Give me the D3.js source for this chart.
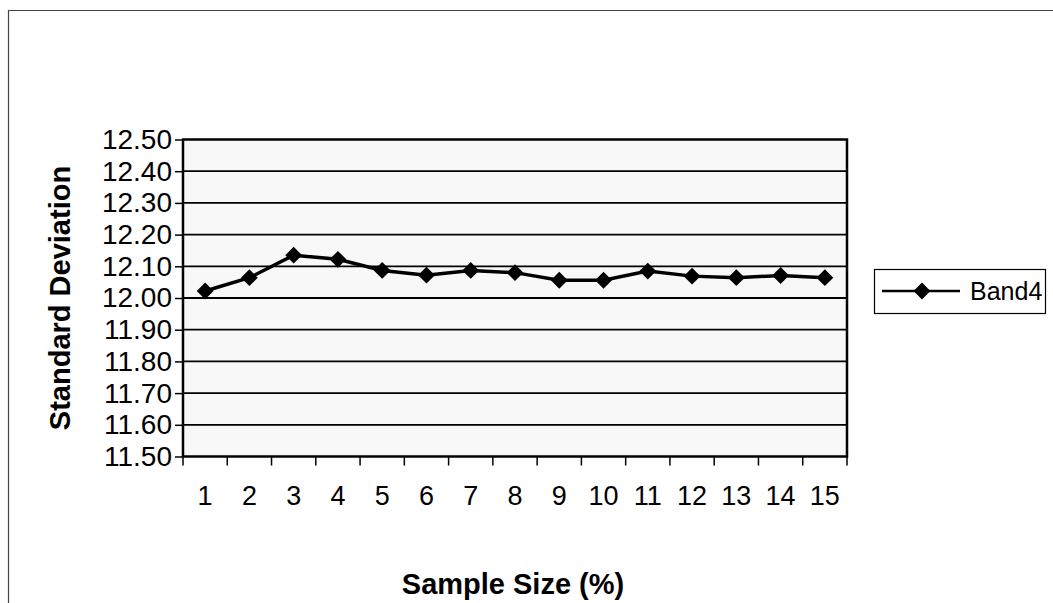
<!DOCTYPE html>
<html><head><meta charset="utf-8">
<script src="https://cdn.jsdelivr.net/npm/d3@7"></script>
<style>body{margin:0;background:#fff}svg{display:block}text{font-family:"Liberation Sans",Arial,sans-serif;fill:#000}</style>
</head><body>
<script>
const categories = ["1","2","3","4","5","6","7","8","9","10","11","12","13","14","15"];
const band4 = [12.022, 12.064, 12.135, 12.122, 12.087, 12.072, 12.087, 12.080, 12.056, 12.056, 12.085, 12.069, 12.064, 12.071, 12.064];
const yTicks = [11.5, 11.6, 11.7, 11.8, 11.9, 12.0, 12.1, 12.2, 12.3, 12.4, 12.5];
const seriesName = "Band4";
const xTitle = "Sample Size (%)";
const yTitle = "Standard Deviation";

const W = 1053, H = 603;
const L = 183, R = 847, T = 139.5, B = 456.5;
const svg = d3.select("body").append("svg").attr("width", W).attr("height", H);

// outer frame
svg.append("path").attr("d", `M8.5,${H} L8.5,10.5 L${W},10.5`).attr("fill","none").attr("stroke","#444").attr("stroke-width",1.2);

const x = d3.scaleBand().domain(categories).range([L, R]);
const y = d3.scaleLinear().domain([11.5, 12.5]).range([B, T]);

svg.append("rect").attr("x", L).attr("y", T).attr("width", R-L).attr("height", B-T).attr("fill", "#f8f8f8");

// gridlines
svg.append("g").selectAll("line").data(yTicks.slice(1,-1)).join("line")
  .attr("x1", L).attr("x2", R).attr("y1", d=>y(d)).attr("y2", d=>y(d))
  .attr("stroke","#000").attr("stroke-width",1.8);

// y axis
const ya = svg.append("g").attr("transform",`translate(${L},0)`)
  .call(d3.axisLeft(y).tickValues(yTicks).tickFormat(d3.format(".2f")).tickSize(8).tickPadding(3));
ya.select(".domain").remove();
ya.selectAll(".tick line").attr("stroke","#000").attr("stroke-width",1.5);
ya.selectAll(".tick text").attr("font-size",28).attr("font-family","Liberation Sans, Arial, sans-serif");

// x axis ticks at category boundaries
const bounds = categories.map(c=>x(c)).concat([R]);
svg.append("g").selectAll("line").data(bounds).join("line")
  .attr("x1", d=>d).attr("x2", d=>d).attr("y1", B).attr("y2", B+9)
  .attr("stroke","#000").attr("stroke-width",1.5);
const xa = svg.append("g").attr("transform",`translate(0,${B})`)
  .call(d3.axisBottom(x).tickSize(0).tickPadding(29));
xa.select(".domain").remove();
xa.selectAll(".tick text").attr("font-size",27).attr("font-family","Liberation Sans, Arial, sans-serif");

// plot border
svg.append("rect").attr("x", L).attr("y", T).attr("width", R-L).attr("height", B-T)
  .attr("fill","none").attr("stroke","#000").attr("stroke-width",2.5);

// line
const cx = d => x(d) + x.bandwidth()/2;
svg.append("path").datum(band4.map((v,i)=>[categories[i],v]))
  .attr("d", d3.line().x(d=>cx(d[0])).y(d=>y(d[1])))
  .attr("fill","none").attr("stroke","#000").attr("stroke-width",3.5);
const diamond = d3.symbol().type(d3.symbolDiamond2).size(180);
svg.append("g").selectAll("path").data(band4).join("path")
  .attr("transform",(d,i)=>`translate(${cx(categories[i])},${y(d)})`)
  .attr("d", diamond).attr("fill","#000");

// titles
svg.append("text").attr("x", (L+R)/2 - 2).attr("y", 594).attr("text-anchor","middle")
  .attr("font-size",29).attr("font-weight","bold").text(xTitle);
svg.append("text").attr("transform",`translate(70,${(T+B)/2}) rotate(-90)`).attr("text-anchor","middle")
  .attr("font-size",29).attr("font-weight","bold").text(yTitle);

// legend
const lg = svg.append("g");
lg.append("rect").attr("x",874.5).attr("y",269.5).attr("width",171).attr("height",44)
  .attr("fill","#fff").attr("stroke","#000").attr("stroke-width",1.2);
lg.append("line").attr("x1",882).attr("x2",960).attr("y1",291).attr("y2",291).attr("stroke","#000").attr("stroke-width",2.5);
lg.append("path").attr("transform","translate(922,291)").attr("d",diamond).attr("fill","#000");
lg.append("text").attr("x",970).attr("y",300).attr("font-size",25).text(seriesName);
</script>
</body></html>
